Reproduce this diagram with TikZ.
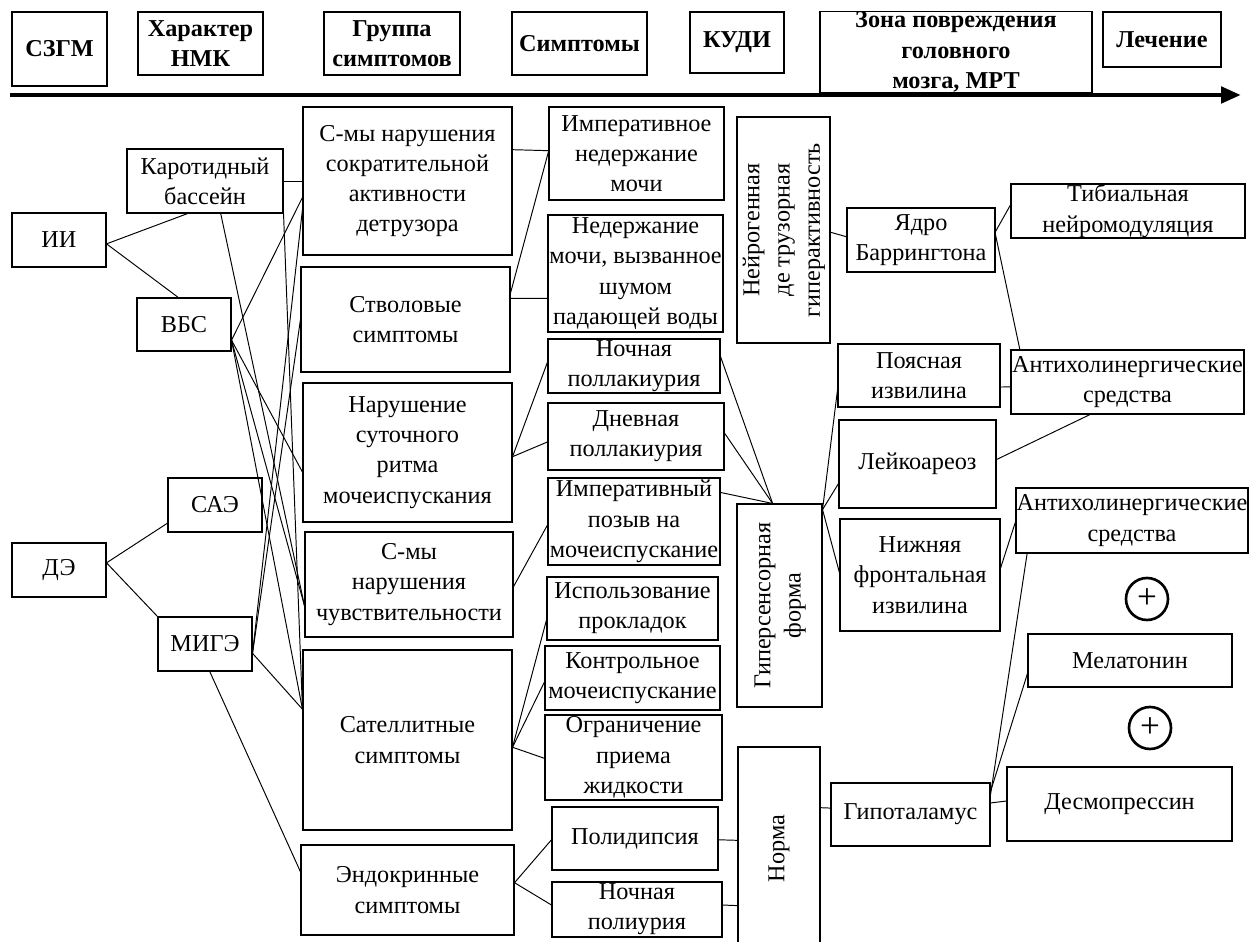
\documentclass[tikz,border=0pt]{standalone}
\usepackage{fontspec}
\setmainfont{Liberation Serif}
\usetikzlibrary{arrows.meta,calc,positioning}

\newcommand{\fs}{\fontsize{13.8}{17.2}\selectfont}
% points on the sides of a box, given as a fraction of that side
\newcommand{\lpt}[2]{($(#1.north west)!#2!(#1.south west)$)}
\newcommand{\rpt}[2]{($(#1.north east)!#2!(#1.south east)$)}
\newcommand{\tpt}[2]{($(#1.north west)!#2!(#1.north east)$)}
\newcommand{\bpt}[2]{($(#1.south west)!#2!(#1.south east)$)}

\tikzset{
    box/.style={rectangle, draw, line width=0.6pt, align=center, inner sep=0pt, font=\fs},
    hdr/.style={box, font=\fs\bfseries},
    sz/.style 2 args={minimum width=#1*0.02cm, minimum height=#2*0.02cm},
    ln/.style={line width=0.55pt},
    plus/.style={circle, draw, line width=1.5pt, minimum size=42*0.02cm, inner sep=0pt, font=\fontsize{20}{20}\selectfont}
}

\begin{document}
\begin{tikzpicture}[x=0.02cm,y=-0.02cm]
        \useasboundingbox (0,0) rectangle (1249,942);
        \clip (0,0) rectangle (1249,942);
        % header
        \node[hdr, sz={95}{74}] at (59.5,49) (szgm) {СЗГМ};
        \node[hdr, sz={125}{63}] at (200.5,43.5) (harakter) {Характер\\НМК};
        \node[hdr, sz={136}{63}] at (392,43.5) (gruppa) {Группа\\симптомов};
        \node[hdr, sz={135}{63}] at (579.5,43.5) (simpt) {Симптомы};
        \node[hdr, sz={94}{61}] at (737,42.5) (kudi) {КУДИ};
        \node[hdr, sz={272}{80}] at (956,52) (zona) {Зона повреждения\\головного\\мозга, МРТ};
        \node[hdr, sz={118}{55}] at (1162,39.5) (lech) {Лечение};
        \coordinate (axs) at (10,95);
        \coordinate (axe) at (1241,95);
        \draw[line width=2.8pt, -{Triangle[length=20*0.02cm, width=16*0.02cm]}] (axs) -- (axe);
        % lesions
        \node[box, sz={94}{54}] at (59,240) (ii) {ИИ};
        \node[box, sz={94}{54}] at (59,570) (de) {ДЭ};
        \node[box, sz={156}{64}] at (205,181) (kar) {Каротидный\\бассейн};
        \node[box, sz={94}{53}] at (184,324.5) (vbs) {ВБС};
        \node[box, sz={94}{54}] at (215,505) (sae) {САЭ};
        \node[box, sz={94}{54}] at (205,644) (mige) {МИГЭ};
        % symptom groups
        \node[box, sz={209}{148}] at (407.5,181) (g1) {С-мы нарушения\\сократительной\\активности\\детрузора};
        \node[box, sz={209}{105}] at (405.5,319.5) (g2) {Стволовые\\симптомы};
        \node[box, sz={209}{139}] at (407.5,452.5) (g3) {Нарушение\\суточного\\ритма\\мочеиспускания};
        \node[box, sz={208}{105}] at (409,584.5) (g4) {С-мы\\нарушения\\чувствительности};
        \node[box, sz={209}{180}] at (407.5,740) (g5) {Сателлитные\\симптомы};
        \node[box, sz={213}{90}] at (407.5,890) (g6) {Эндокринные\\симптомы};
        % symptoms
        \node[box, sz={175}{93}] at (636.5,153.5) (s1) {Императивное\\недержание\\мочи};
        \node[box, sz={175}{117}] at (635.5,273.5) (s2) {Недержание\\мочи, вызванное\\шумом\\падающей воды};
        \node[box, sz={172}{54}] at (634,366) (s3) {Ночная\\поллакиурия};
        \node[box, sz={176}{67}] at (636,436.5) (s4) {Дневная\\поллакиурия};
        \node[box, sz={172}{87}] at (634,521.5) (s5) {Императивный\\позыв на\\мочеиспускание};
        \node[box, sz={171}{63}] at (632.5,608.5) (s6) {Использование\\прокладок};
        \node[box, sz={175}{64}] at (632.5,678) (s7) {Контрольное\\мочеиспускание};
        \node[box, sz={177}{85}] at (633.5,757.5) (s8) {Ограничение\\приема\\жидкости};
        \node[box, sz={166}{63}] at (635,838.5) (s9) {Полидипсия};
        \node[box, sz={170}{55}] at (637,909.5) (s10) {Ночная\\полиурия};
        % urodynamics
        \node[box, sz={93}{226}] at (783.5,230) (k1) {\rotatebox{90}{\begin{tabular}{@{}c@{}}Нейрогенная\\де трузорная\\гиперактивность\end{tabular}}};
        \node[box, sz={85}{203}] at (779.5,605.5) (k2) {\rotatebox{90}{\begin{tabular}{@{}c@{}}Гиперсенсорная\\форма\end{tabular}}};
        \node[box, sz={82}{203}] at (779,848.5) (k3) {\rotatebox{90}{Норма}};
        % brain zones
        \node[box, sz={148}{64}] at (921,240) (z1) {Ядро\\Баррингтона};
        \node[box, sz={162}{63}] at (919,375.5) (z2) {Поясная\\извилина};
        \node[box, sz={157}{88}] at (917.5,464) (z3) {Лейкоареоз};
        \node[box, sz={160}{112}] at (920,575) (z4) {Нижняя\\фронтальная\\извилина};
        \node[box, sz={159}{63}] at (910.5,814.5) (z5) {Гипоталамус};
        % treatment
        \node[box, sz={234}{54}] at (1128,211) (t1) {Тибиальная\\нейромодуляция};
        \node[box, sz={233}{64}] at (1127.5,382) (t2) {Антихолинергические\\средства};
        \node[box, sz={232}{65}] at (1132,520.5) (t3) {Антихолинергические\\средства};
        \node[plus] at (1147,599) (plus1) {+};
        \node[box, sz={204}{53}] at (1130,660.5) (mel) {Мелатонин};
        \node[plus] at (1150,728) (plus2) {+};
        \node[box, sz={225}{74}] at (1119.5,804) (des) {Десмопрессин};
        % lesion links
        \draw[ln] \rpt{ii}{0.57} -- \bpt{kar}{0.39};
        \draw[ln] \rpt{ii}{0.57} -- \tpt{vbs}{0.44};
        \draw[ln] \rpt{de}{0.37} -- \lpt{sae}{0.83};
        \draw[ln] \rpt{de}{0.37} -- (mige.north west);
        \draw[ln] (kar.east) -- (g1.west |- kar.east);
        \draw[ln] \bpt{kar}{0.6} -- \lpt{g4}{0.70};
        \draw[ln] (kar.south east) -- \lpt{g5}{0.33};
        \draw[ln] \rpt{vbs}{0.79} -- \lpt{g1}{0.61};
        \draw[ln] \rpt{vbs}{0.79} -- \lpt{g3}{0.64};
        \draw[ln] \rpt{vbs}{0.79} -- \lpt{g4}{0.70};
        \draw[ln] \rpt{vbs}{0.79} -- \lpt{g5}{0.33};
        \draw[ln] \rpt{mige}{0.67} -- \lpt{g1}{0.69};
        \draw[ln] \rpt{mige}{0.67} -- \lpt{g2}{0.5};
        \draw[ln] \rpt{mige}{0.67} -- \lpt{g5}{0.33};
        \draw[ln] \bpt{mige}{0.55} -- \lpt{g6}{0.3};
        % group to symptom links
        \draw[ln] \rpt{g1}{0.29} -- \lpt{s1}{0.47};
        \draw[ln] \rpt{g2}{0.25} -- \lpt{s1}{0.48};
        \draw[ln] \rpt{g2}{0.30} -- \lpt{s2}{0.71};
        \draw[ln] \rpt{g3}{0.53} -- \lpt{s3}{0.43};
        \draw[ln] \rpt{g3}{0.53} -- \lpt{s4}{0.58};
        \draw[ln] \rpt{g4}{0.52} -- \lpt{s5}{0.54};
        \draw[ln] \rpt{g5}{0.54} -- \lpt{s6}{0.68};
        \draw[ln] \rpt{g5}{0.54} -- \lpt{s7}{0.56};
        \draw[ln] \rpt{g5}{0.54} -- \lpt{s8}{0.51};
        \draw[ln] \rpt{g6}{0.42} -- \lpt{s9}{0.52};
        \draw[ln] \rpt{g6}{0.42} -- \lpt{s10}{0.42};
        % symptom to urodynamics links
        \draw[ln] \rpt{s3}{0.33} -- \tpt{k2}{0.42};
        \draw[ln] \rpt{s4}{0.45} -- \tpt{k2}{0.42};
        \draw[ln] \rpt{s5}{0.17} -- \tpt{k2}{0.42};
        \draw[ln] \rpt{s9}{0.52} -- \lpt{k3}{0.46};
        \draw[ln] \rpt{s10}{0.42} -- \lpt{k3}{0.78};
        % urodynamics to zones
        \draw[ln] \rpt{k1}{0.51} -- \lpt{z1}{0.45};
        \draw[ln] \rpt{k2}{0.03} -- \lpt{z2}{0.73};
        \draw[ln] \rpt{k2}{0.03} -- \lpt{z3}{0.72};
        \draw[ln] \rpt{k2}{0.03} -- \lpt{z4}{0.48};
        \draw[ln] \rpt{k3}{0.30} -- \lpt{z5}{0.40};
        % zones to treatment
        \draw[ln] \rpt{z1}{0.37} -- \lpt{t1}{0.39};
        \draw[ln] \rpt{z1}{0.42} -- \tpt{t2}{0.04};
        \draw[ln] \rpt{z2}{0.68} -- \lpt{t2}{0.575};
        \draw[ln] \rpt{z3}{0.45} -- \bpt{t2}{0.34};
        \draw[ln] \rpt{z4}{0.44} -- \lpt{t3}{0.52};
        \draw[ln] \rpt{z5}{0.19} -- \bpt{t3}{0.05};
        \draw[ln] \rpt{z5}{0.14} -- \lpt{mel}{0.74};
        \draw[ln] \rpt{z5}{0.32} -- \lpt{des}{0.46};
\end{tikzpicture}
\end{document}
